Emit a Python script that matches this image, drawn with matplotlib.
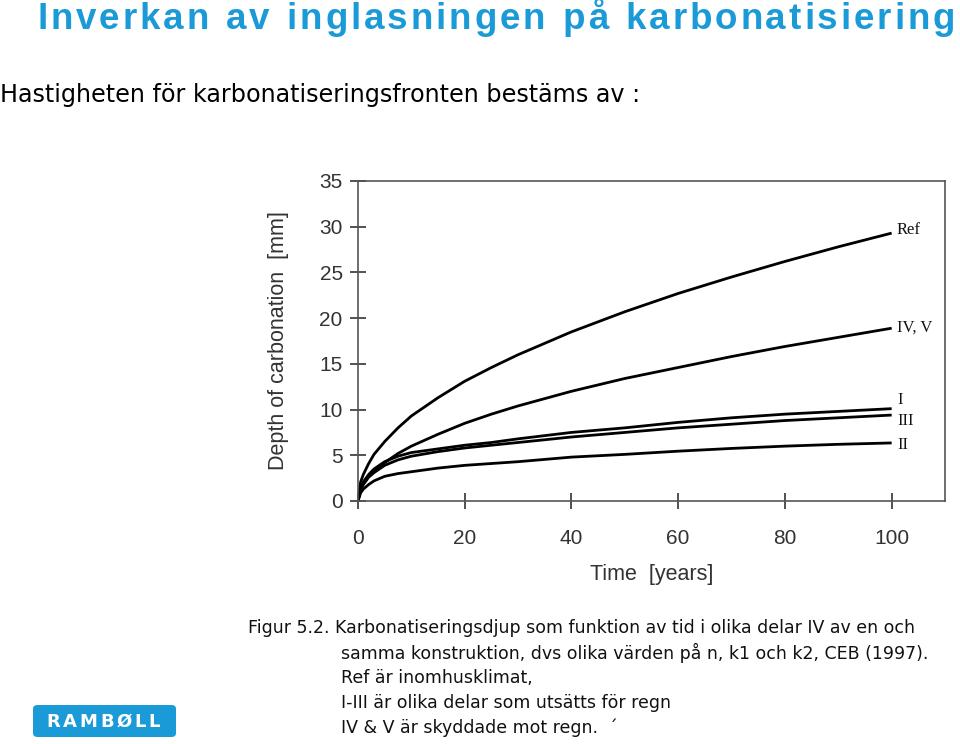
import matplotlib
matplotlib.use("Agg")
import matplotlib.pyplot as plt
from matplotlib.patches import FancyBboxPatch
from matplotlib.font_manager import FontProperties

# ---- data ----
time_years = [0, 0.5, 1, 2, 3, 5, 7.5, 10, 15, 20, 25, 30, 40, 50, 60, 70, 80, 90, 100]
depth_ref = [0, 2.1, 2.9, 4.1, 5.1, 6.5, 8.0, 9.3, 11.3, 13.1, 14.6, 16.0, 18.5, 20.7, 22.7, 24.5, 26.2, 27.8, 29.3]
depth_iv_v = [0, 1.3, 1.9, 2.7, 3.3, 4.2, 5.2, 6.0, 7.3, 8.5, 9.5, 10.4, 12.0, 13.4, 14.6, 15.8, 16.9, 17.9, 18.9]
depth_i = [0, 1.5, 2.1, 2.9, 3.5, 4.3, 4.9, 5.3, 5.7, 6.1, 6.4, 6.8, 7.5, 8.0, 8.6, 9.1, 9.5, 9.8, 10.1]
depth_iii = [0, 1.3, 1.8, 2.6, 3.1, 3.9, 4.5, 4.9, 5.4, 5.8, 6.1, 6.4, 7.0, 7.5, 8.0, 8.4, 8.8, 9.1, 9.4]
depth_ii = [0, 0.9, 1.3, 1.8, 2.2, 2.7, 3.0, 3.2, 3.6, 3.9, 4.1, 4.3, 4.8, 5.1, 5.45, 5.75, 6.0, 6.2, 6.35]

series_labels = ["Ref", "IV, V", "I", "III", "II"]
label_y = [29.6, 19.0, 11.1, 8.8, 6.1]
x_ticks = [0, 20, 40, 60, 80, 100]
y_ticks = [0, 5, 10, 15, 20, 25, 30, 35]

title = "Inverkan av inglasningen på karbonatisiering"
subtitle = "Hastigheten för karbonatiseringsfronten bestäms av :"
caption_first = "Figur 5.2. Karbonatiseringsdjup som funktion av tid i olika delar IV av en och"
caption_rest = [
    "samma konstruktion, dvs olika värden på n, k1 och k2, CEB (1997).",
    "Ref är inomhusklimat,",
    "I-III är olika delar som utsätts för regn",
    "IV & V är skyddade mot regn.  ´",
]
logo_text = "RAMBØLL"

BLUE = "#1b9ad8"
plt.rcParams["font.family"] = ["Liberation Sans", "DejaVu Sans"]

fig = plt.figure(figsize=(9.6, 7.44), dpi=100)
W, H = 960, 744
renderer = fig.canvas.get_renderer()


def fx(px):
    return px / W


def fy(py):
    return 1 - py / H


def spaced_text(text, x0, x1, yc, **kw):
    """Draw text letter by letter so that it spans pixel x0..x1."""
    fp = FontProperties(family=kw.get("family"), size=kw.get("fontsize"),
                        weight=kw.get("fontweight", "normal"))
    widths = []
    for ch in text:
        if ch == " ":
            w, _, _ = renderer.get_text_width_height_descent("a", fp, ismath=False)
            w *= 0.55
        else:
            w, _, _ = renderer.get_text_width_height_descent(ch, fp, ismath=False)
        widths.append(w)
    natural = sum(widths)
    gap = (x1 - x0 - natural) / (len(text) - 1)
    x = x0
    for ch, w in zip(text, widths):
        if ch != " ":
            fig.text(fx(x), fy(yc), ch, va="baseline", ha="left", **kw)
        x += w + gap


ax = fig.add_axes([fx(358), fy(501), fx(945) - fx(358), fy(181) - fy(501)])
series = [depth_ref, depth_iv_v, depth_i, depth_iii, depth_ii]
for s in series:
    ax.plot(time_years, s, color="black", lw=2.0, solid_capstyle="butt")

ax.set_xlim(0, 110)
ax.set_ylim(0, 35)
ax.set_xticks(x_ticks)
ax.set_yticks(y_ticks)
for sp in ax.spines.values():
    sp.set_linewidth(1.2)
    sp.set_color("#555555")
ax.tick_params(axis="y", direction="inout", length=12, width=1.2, pad=5,
               labelsize=15, colors="#333333")
ax.tick_params(axis="x", direction="inout", length=12, width=1.2, pad=14,
               labelsize=15, colors="#333333")
ax.set_xlabel("Time  [years]", fontsize=15.5, color="#333333", labelpad=12)
ax.set_ylabel("Depth of carbonation  [mm]", fontsize=15.5, color="#333333",
              labelpad=22)

for lbl, yv in zip(series_labels, label_y):
    ax.text(101, yv, lbl, family="Liberation Serif", fontsize=12,
            va="center", ha="left", color="#111111")

# Title and subtitle
spaced_text(title, 37, 955, 29, color=BLUE, fontsize=26.5, fontweight="bold",
            family="Liberation Sans")
fig.text(fx(0), fy(95), subtitle, color="black", fontsize=17.2,
         family="DejaVu Sans", va="center", ha="left")

# Caption
fig.text(fx(248), fy(628), caption_first, fontsize=12.5, family="DejaVu Sans",
         va="center", ha="left", color="#111111")
for i, line in enumerate(caption_rest):
    fig.text(fx(341), fy(653 + 25 * i), line, fontsize=12.5, family="DejaVu Sans",
             va="center", ha="left", color="#111111")

# Logo
logo = FancyBboxPatch((fx(33), fy(737)), fx(176) - fx(33), fy(705) - fy(737),
                      boxstyle="round,pad=0,rounding_size=0.005",
                      transform=fig.transFigure, facecolor=BLUE,
                      edgecolor="none")
fig.patches.append(logo)
spaced_text(logo_text, 46, 160, 727, color="white", fontsize=13,
            fontweight="bold", family="DejaVu Sans")

fig.savefig("out.png", dpi=100)
